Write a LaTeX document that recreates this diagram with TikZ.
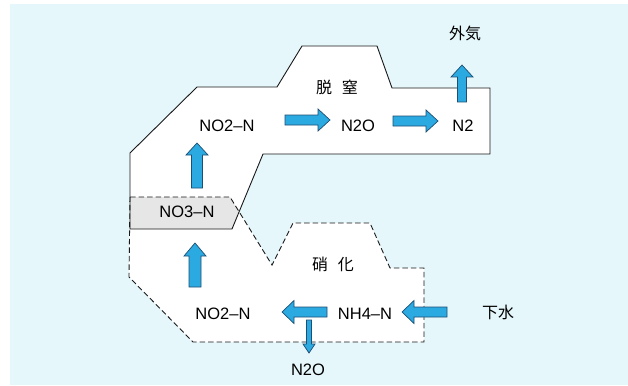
\documentclass[tikz,border=0pt]{standalone}
\usepackage{fontspec}
\setmainfont{Liberation Sans}
\newfontfamily\cjk{Noto Sans CJK JP}
\usetikzlibrary{calc}
\definecolor{bgblue}{HTML}{E6F7FB}
\definecolor{arrblue}{HTML}{2BA9E1}
\definecolor{arrline}{HTML}{1D4F73}
\definecolor{overlapgray}{HTML}{E6E6E6}
\tikzset{
  blockarrow/.style={fill=arrblue, draw=arrline, line width=0.7pt, line join=miter},
  lbl/.style={font=\fontsize{16.5}{17}\selectfont, inner sep=1pt},
  jlbl/.style={font=\cjk\fontsize{16}{17}\selectfont, inner sep=1pt},
  solidline/.style={draw=black!90, line width=0.9pt, line join=miter},
  dashline/.style={draw=black!90, line width=0.9pt, dash pattern=on 5.5pt off 3pt}
}
\newcommand\blockarr[5]{%
  \coordinate (tmpH) at ($(#2)!#5!(#1)$);
  \draw[blockarrow] ($(#1)!#3!90:(#2)$) -- ($(tmpH)!#3!-90:(#1)$) -- ($(tmpH)!#4!-90:(#1)$) -- (#2)
    -- ($(tmpH)!#4!90:(#1)$) -- ($(tmpH)!#3!90:(#1)$) -- ($(#1)!#3!-90:(#2)$) -- cycle;}
\begin{document}
\begin{tikzpicture}[x=1pt,y=-1pt]
\useasboundingbox (0,0) rectangle (628,385);
\fill[bgblue] (10,4) rectangle (628,385);
% shapes
\def\uppershape{(130,229) -- (130,153) -- (197,87) -- (277,87) -- (302,46) -- (377,46) -- (392,88) -- (490,88) -- (490,154) -- (263,154) -- (232,229) -- cycle}
\def\lowershape{(130,197) -- (230,197) -- (272,265) -- (293,223) -- (370,223) -- (390,268) -- (424,268) -- (424,342) -- (193,342) -- (129,277) -- cycle}
\fill[white] \lowershape;
\fill[white] \uppershape;
\begin{scope}
  \clip \uppershape;
  \fill[overlapgray] \lowershape;
\end{scope}
\draw[dashline] \lowershape;
\draw[solidline] \uppershape;
% labels
\node[jlbl] (gaiki) at (465,33) {外気};
\node[jlbl] (datchitsu) at (337,87) {脱\hspace{0.6em}窒};
\node[lbl] (no2top) at (227,126) {NO2–N};
\node[lbl] (n2otop) at (358,126) {N2O};
\node[lbl] (n2) at (463,126) {N2};
\node[lbl] (no3) at (187,212) {NO3–N};
\node[jlbl] (shouka) at (333,264) {硝\hspace{0.6em}化};
\node[lbl] (no2bot) at (223,314) {NO2–N};
\node[lbl] (nh4) at (365,314) {NH4–N};
\node[jlbl] (gesui) at (498,312) {下水};
\node[lbl] (n2obot) at (308,370) {N2O};
% arrow end points
\coordinate (a1s) at (285,120); \coordinate (a1e) at (330,120);
\coordinate (a2s) at (393,121); \coordinate (a2e) at (438,121);
\coordinate (a3s) at (462,102); \coordinate (a3e) at (462,65);
\coordinate (a4s) at (197,188); \coordinate (a4e) at (197,143);
\coordinate (a5s) at (195,287); \coordinate (a5e) at (195,243);
\coordinate (a6s) at (327,312); \coordinate (a6e) at (282,312);
\coordinate (a7s) at (447,312); \coordinate (a7e) at (402,312);
\coordinate (a8s) at (309,320); \coordinate (a8e) at (309,353);
\blockarr{a1s}{a1e}{5pt}{11pt}{12pt}
\blockarr{a2s}{a2e}{5pt}{11pt}{12pt}
\blockarr{a3s}{a3e}{4.5pt}{11pt}{12pt}
\blockarr{a4s}{a4e}{5.5pt}{11pt}{12pt}
\blockarr{a5s}{a5e}{6pt}{11pt}{13pt}
\blockarr{a6s}{a6e}{5pt}{11.5pt}{12pt}
\blockarr{a7s}{a7e}{5pt}{11.5pt}{12pt}
\blockarr{a8s}{a8e}{2.5pt}{6pt}{9pt}
\end{tikzpicture}
\end{document}
